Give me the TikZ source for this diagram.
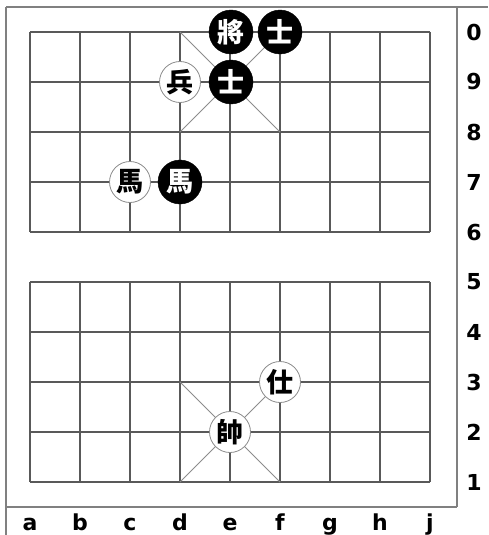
\documentclass[tikz,border=0pt]{standalone}
\usepackage{fontspec}
\setmainfont{DejaVu Sans}
\newfontfamily\cjk{Noto Sans CJK TC}
\begin{document}
\begin{tikzpicture}[x=1pt,y=-1pt,
  gridline/.style={draw=black!65,line width=1.2pt},
  diag/.style={draw=black!45,line width=0.8pt},
  frameline/.style={draw=black!50,line width=1.4pt},
  redpc/.style={circle,draw=black!45,line width=0.8pt,fill=white,minimum size=41pt,inner sep=0pt,font=\cjk\bfseries\fontsize{27}{27}\selectfont,text=black},
  blkpc/.style={circle,draw=black,fill=black,minimum size=44pt,inner sep=0pt,font=\cjk\bfseries\fontsize{27}{27}\selectfont,text=white},
  lbl/.style={font=\bfseries\fontsize{22}{22}\selectfont,inner sep=0pt}]
\useasboundingbox (0,0) rectangle (488,535);
\fill[white] (0,0) rectangle (488,535);
% frame
\draw[frameline] (6,7) -- (488,7);
\draw[frameline] (6,7) -- (6,535);
\draw[frameline] (6,507) -- (457,507);
\draw[frameline] (457,7) -- (457,507);
% grid upper
\foreach \y in {32,82,132,182,232} \draw[gridline] (30,\y) -- (430,\y);
\foreach \x in {30,80,...,430} \draw[gridline] (\x,32) -- (\x,232);
% grid lower
\foreach \y in {282,332,382,432,482} \draw[gridline] (30,\y) -- (430,\y);
\foreach \x in {30,80,...,430} \draw[gridline] (\x,282) -- (\x,482);
% palaces
\draw[diag] (180,32) -- (280,132) (280,32) -- (180,132);
\draw[diag] (180,382) -- (280,482) (280,382) -- (180,482);
% pieces
\node[blkpc] (bk) at (231,32) {將};
\node[blkpc] (ba1) at (280,32) {士};
\node[blkpc] (ba2) at (231,82) {士};
\node[redpc] (rp) at (180,82) {兵};
\node[redpc] (rh) at (130,182) {馬};
\node[blkpc] (bh) at (180,182) {馬};
\node[redpc] (ra) at (280,382) {仕};
\node[redpc] (rk) at (230,432) {帥};
% labels
\foreach \n/\y in {0/32,9/82,8/132,7/182,6/232,5/282,4/332,3/382,2/432,1/482}
  \node[lbl] (r\n) at (474,\y) {\n};
\foreach \l/\x in {a/30,b/80,c/130,d/180,e/230,f/280,g/330,h/380,j/430}
  \node[lbl,anchor=base] (c\l) at (\x,530) {\l};
\end{tikzpicture}
\end{document}
